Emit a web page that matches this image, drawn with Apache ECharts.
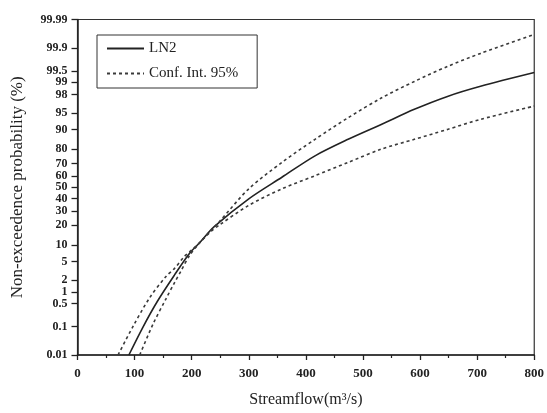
<!DOCTYPE html>
<html>
<head>
<meta charset="utf-8">
<script src="https://cdn.jsdelivr.net/npm/echarts@6/dist/echarts.min.js"></script>
<style>html,body{margin:0;padding:0;background:#fff;}#c{width:547px;height:413px;}</style>
</head>
<body>
<div id="c"></div>
<script>
// ---- data (non-exceedence probability in %) ----
const flowLN2 = [90, 114, 140, 170, 196, 213, 239, 300, 358, 416, 474, 532, 590, 648, 706, 800];
const probLN2 = [0.01, 0.092, 0.575, 2.6, 7.1, 10.7, 19.0, 39.9, 58.8, 75.7, 85.6, 91.8, 95.8, 97.8, 98.74, 99.45];

const flowCIUpper = [71, 97, 126, 155, 170, 187, 200, 213, 233, 248, 300, 358, 416, 474, 532, 590, 648, 706, 800];
const probCIUpper = [0.01, 0.1, 0.7, 2.4, 3.6, 6.2, 8.2, 10.8, 16.6, 22.1, 48.6, 70.9, 85.6, 93.84, 97.6, 99.05, 99.63, 99.85, 99.965];

const flowCILower = [109, 132, 155, 170, 181, 196, 213, 233, 248, 300, 358, 416, 474, 532, 590, 648, 706, 800];
const probCILower = [0.01, 0.118, 0.67, 1.73, 3.13, 6.45, 10.6, 16.2, 20.0, 34.4, 48.6, 60.1, 70.9, 80.1, 85.6, 90.0, 93.4, 96.4];

const yTickLabels = ['0.01','0.1','0.5','1','2','5','10','20','30','40','50','60','70','80','90','95','98','99','99.5','99.9','99.99'];
const xTicks = [0, 100, 200, 300, 400, 500, 600, 700, 800];

// normal probability scale (inverse standard normal CDF)
function probit(p){
  const a=[-3.969683028665376e+01,2.209460984245205e+02,-2.759285104469687e+02,1.383577518672690e+02,-3.066479806614716e+01,2.506628277459239e+00];
  const b=[-5.447609879822406e+01,1.615858368580409e+02,-1.556989798598866e+02,6.680131188771972e+01,-1.328068155288572e+01];
  const c=[-7.784894002430293e-03,-3.223964580411365e-01,-2.400758277161838e+00,-2.549732539343734e+00,4.374664141464968e+00,2.938163982698783e+00];
  const d=[7.784695709041462e-03,3.224671290700398e-01,2.445134137142996e+00,3.754408661907416e+00];
  const pl=0.02425, ph=1-pl;
  if(p<pl){const q=Math.sqrt(-2*Math.log(p));return (((((c[0]*q+c[1])*q+c[2])*q+c[3])*q+c[4])*q+c[5])/((((d[0]*q+d[1])*q+d[2])*q+d[3])*q+1);}
  if(p<=ph){const q=p-0.5,r=q*q;return (((((a[0]*r+a[1])*r+a[2])*r+a[3])*r+a[4])*r+a[5])*q/(((((b[0]*r+b[1])*r+b[2])*r+b[3])*r+b[4])*r+1);}
  const q=Math.sqrt(-2*Math.log(1-p));
  return -(((((c[0]*q+c[1])*q+c[2])*q+c[3])*q+c[4])*q+c[5])/((((d[0]*q+d[1])*q+d[2])*q+d[3])*q+1);
}
const toPts = (xs, ps) => xs.map((x, i) => [x, probit(ps[i] / 100)]);
const zTicks = yTickLabels.map(s => probit(parseFloat(s) / 100));

const FONT = '"Liberation Serif", "Times New Roman", serif';
const chart = echarts.init(document.getElementById('c'), null, {renderer: 'canvas'});
const dashStyle = {color: '#3a3a3a', width: 1.6, type: [3, 3]};
chart.setOption({
  animation: false,
  backgroundColor: '#fff',
  grid: {left: 77.5, right: 9.5, top: 19.5, bottom: 55.5, show: true, borderColor: '#333', borderWidth: 1.2},
  legend: {
    orient: 'vertical', left: 97, top: 35,
    padding: [6, 19, 7, 9], itemGap: 10, itemWidth: 37, itemHeight: 16,
    borderColor: '#333', borderWidth: 1,
    itemStyle: {opacity: 0},
    textStyle: {fontFamily: FONT, fontSize: 15, color: '#222'},
    data: ['LN2', 'Conf. Int. 95%']
  },
  xAxis: {
    type: 'value', min: 0, max: 800, interval: 100,
    name: 'Streamflow(m³/s)', nameLocation: 'middle', nameGap: 37,
    nameTextStyle: {fontFamily: FONT, fontSize: 16, color: '#222'},
    axisLine: {show: true, onZero: false, lineStyle: {color: '#222', width: 1.5}},
    axisTick: {show: true, length: 5, lineStyle: {color: '#222', width: 1.3}, customValues: xTicks},
    minorTick: {show: true, splitNumber: 2, length: 3, lineStyle: {color: '#222', width: 1.2}},
    axisLabel: {margin: 12, fontFamily: FONT, fontSize: 13, fontWeight: 'bold', color: '#222'},
    splitLine: {show: false}
  },
  yAxis: {
    type: 'value', min: zTicks[0], max: zTicks[zTicks.length - 1],
    name: 'Non-exceedence probability (%)', nameLocation: 'middle', nameGap: 51, nameRotate: 90,
    nameTextStyle: {fontFamily: FONT, fontSize: 17, color: '#222'},
    axisLine: {show: true, onZero: false, lineStyle: {color: '#222', width: 1.5}},
    axisTick: {show: true, length: 6, lineStyle: {color: '#222', width: 1.3}, customValues: zTicks},
    axisLabel: {
      customValues: zTicks, margin: 10, fontFamily: FONT, fontSize: 12, fontWeight: 'bold', color: '#222',
      formatter: v => {
        let best = 0;
        zTicks.forEach((t, i) => { if (Math.abs(t - v) < Math.abs(zTicks[best] - v)) best = i; });
        return yTickLabels[best];
      }
    },
    splitLine: {show: false}
  },
  series: [
    {name: 'LN2', type: 'line', data: toPts(flowLN2, probLN2), symbol: 'none', symbolSize: 0, smooth: 0.3,
     lineStyle: {color: '#222', width: 1.6}, itemStyle: {color: '#222'}, z: 3},
    {name: 'Conf. Int. 95%', type: 'line', data: toPts(flowCIUpper, probCIUpper), symbol: 'none', symbolSize: 0, smooth: 0.3,
     lineStyle: dashStyle, itemStyle: {color: '#3a3a3a'}},
    {name: 'Conf. Int. 95%', type: 'line', data: toPts(flowCILower, probCILower), symbol: 'none', symbolSize: 0, smooth: 0.3,
     lineStyle: dashStyle, itemStyle: {color: '#3a3a3a'}}
  ]
});
</script>
</body>
</html>
